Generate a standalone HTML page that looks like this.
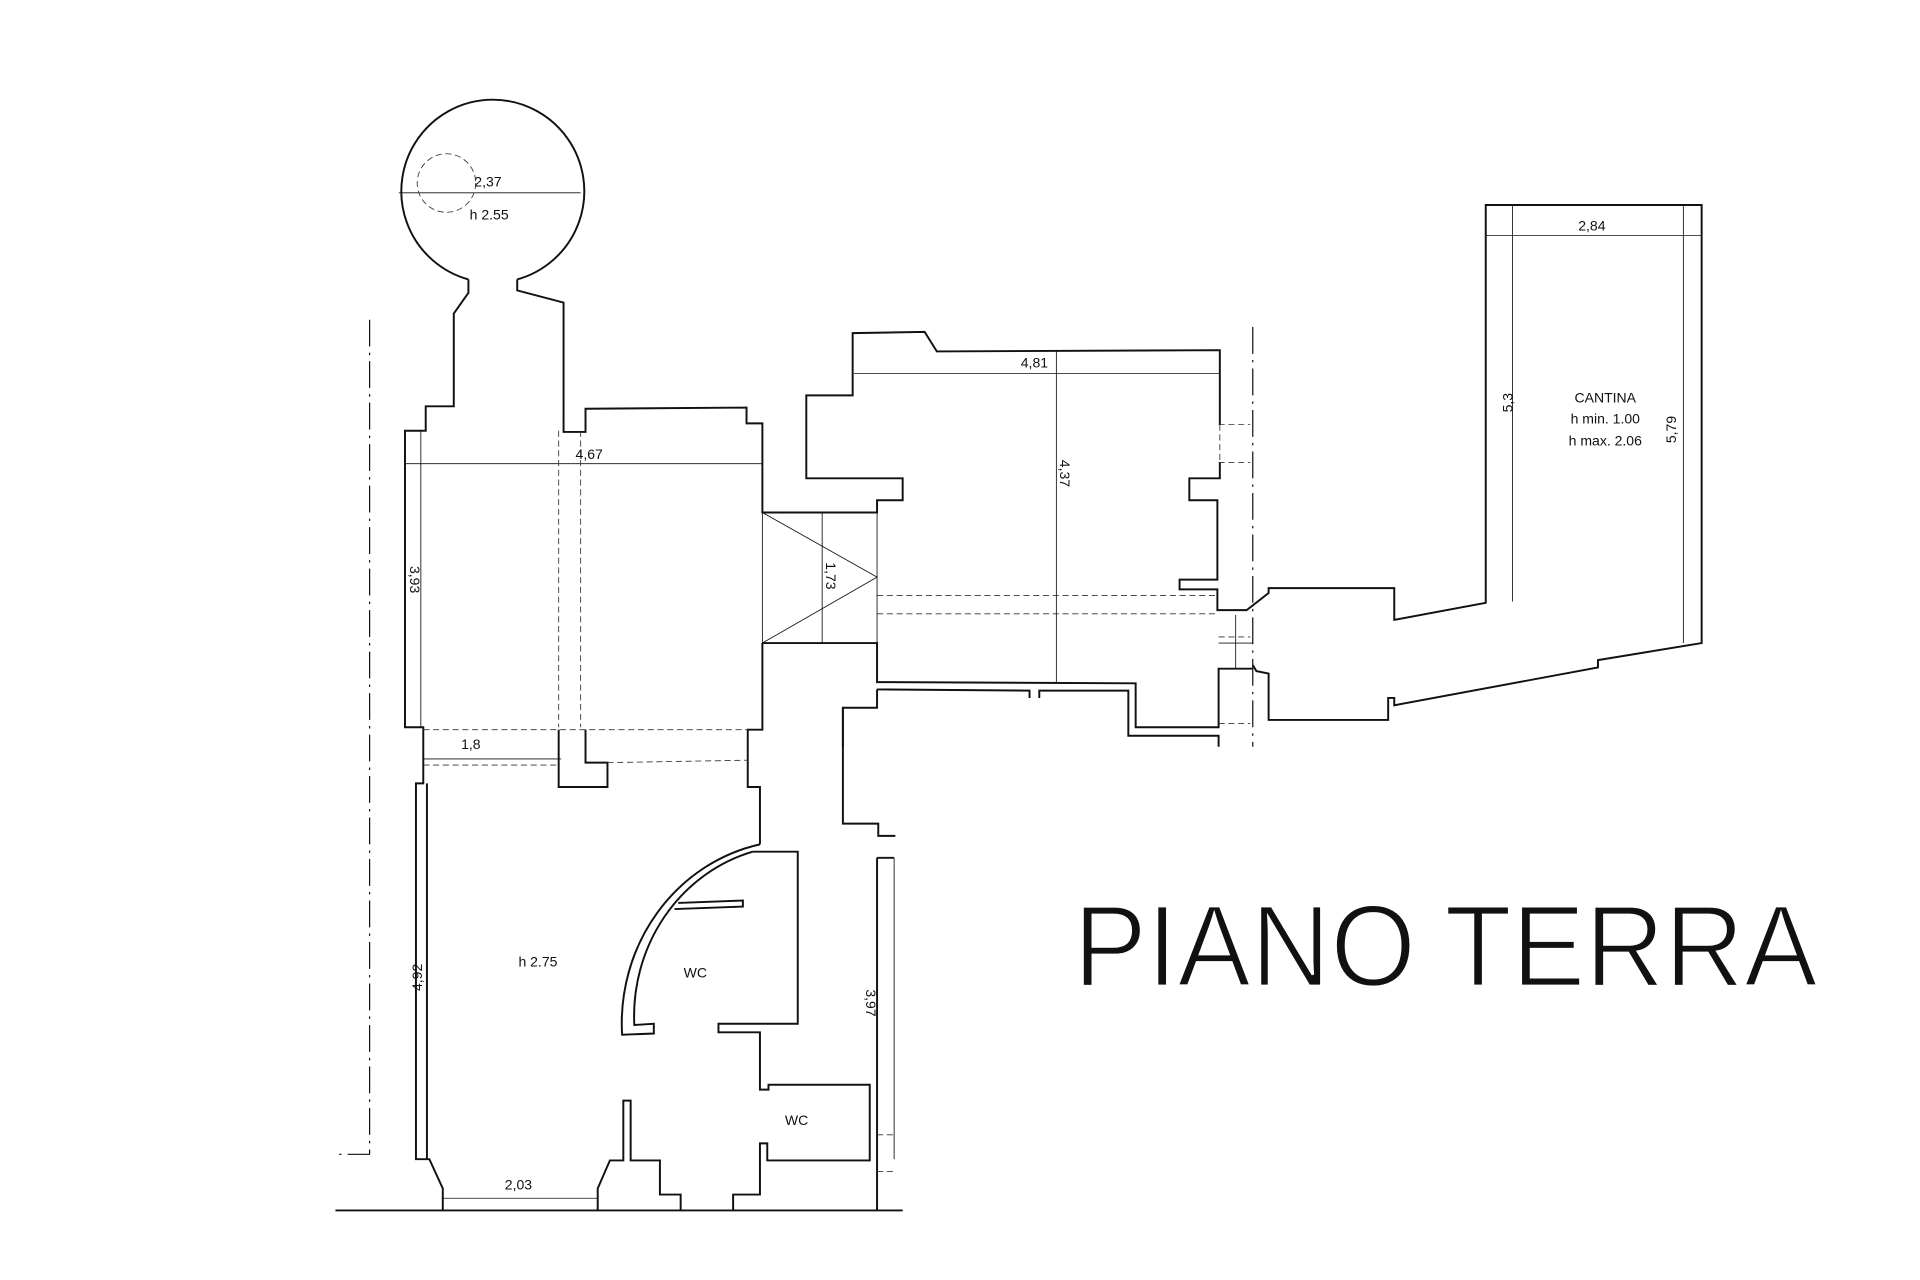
<!DOCTYPE html>
<html><head><meta charset="utf-8"><style>
html,body{margin:0;padding:0;background:#fff;}
svg{display:block;}
text{font-family:"Liberation Sans",sans-serif;fill:#111;}
</style></head><body>
<svg width="1920" height="1280" viewBox="0 0 1574 1049" preserveAspectRatio="none" xmlns="http://www.w3.org/2000/svg">
<rect width="1574" height="1049" fill="#fff"/>
<g fill="none" stroke="#111" stroke-width="1.6" stroke-linejoin="miter">
<path d="M384,229 L384,240 L372,257 L372,333 L349,333 L349,353 L332,353 L332,596 L347,596 L347,642 L341,642 L341,950 L352,950 L363,974 L363,992"/>
<path d="M384,229 A75,75 0 1 1 424,229"/>
<path d="M424,229 L424,238 L462,248 L462,354 L480,354 L480,335 L612,334 L612,347 L625,347 L625,420 L719,420 L719,410 L740,410 L740,392 L661,392 L661,324 L699,324 L699,273 L758,272 L768,288 L1000,287 L1000,348"/>
<path d="M1000,379 L1000,392 L975,392 L975,410 L998,410 L998,475 L967,475 L967,483 L998,483 L998,500 L1022,500 L1040,486 L1040,482 L1143,482 L1143,508 L1218,494 L1218,168 L1395,168 L1395,527 L1310,541 L1310,547 L1143,578 L1143,572 L1138,572 L1138,590 L1040,590 L1040,552 L1030,550 L1027,545"/>
<path d="M625,527 L719,527 L719,559 L931,560 L931,596 L999,596 L999,548 L1027,548"/>
<path d="M719,565 L844,566 L844,572 M852,572 L852,566 L925,566 L925,603 L999,603 L999,612"/>
<path d="M625,527 L625,598 L613,598 L613,645 L623,645 L623,692"/>
<path d="M458,598 L458,645 L498,645 L498,625 L480,625 L480,598"/>
<path d="M691,612 L691,580 L719,580 L719,565"/>
<path d="M691,580 L691,675 L720,675 L720,685 L734,685"/>
<path d="M719,703 L733,703 M719,703 L719,992"/>
<path d="M350,642 L350,950"/>
<path d="M490,992 L490,974 L500,951 L511,951 L511,902 L517,902 L517,951 L541,951 L541,979 L558,979 L558,992"/>
<path d="M601,992 L601,979 L623,979 L623,937 L629,937 L629,951 L713,951 L713,889 L630,889 L630,893 L623,893 L623,846 L589,846 L589,839 L654,839 L654,698 L617,698"/>
<path d="M623,692 A143,150 0 0 0 510,848 L536,847 L536,839 L520,840 A133,140 0 0 1 617,698"/>
<path d="M553,745 L609,743 L609,738 L556,740"/>
<path d="M275,992 L740,992"/>
</g>
<g fill="none" stroke="#111" stroke-width="0.7">
<line x1="327" y1="158" x2="476" y2="158"/>
<line x1="332" y1="380" x2="625" y2="380"/>
<line x1="345" y1="353" x2="345" y2="596"/>
<line x1="347" y1="622" x2="460" y2="622"/>
<line x1="362" y1="982" x2="490" y2="982"/>
<line x1="733" y1="703" x2="733" y2="950"/>
<line x1="625" y1="420" x2="625" y2="527"/>
<line x1="719" y1="420" x2="719" y2="527"/>
<path d="M625,420 L719,473 L625,527"/>
<line x1="674" y1="420" x2="674" y2="527"/>
<line x1="700" y1="306" x2="1000" y2="306"/>
<line x1="866" y1="288" x2="866" y2="560"/>
<line x1="1218" y1="193" x2="1395" y2="193"/>
<line x1="1240" y1="168" x2="1240" y2="493"/>
<line x1="1380" y1="168" x2="1380" y2="527"/>
<line x1="999" y1="527" x2="1027" y2="527"/>
<line x1="1013" y1="504" x2="1013" y2="548"/>
</g>
<g fill="none" stroke="#333" stroke-width="0.7" stroke-dasharray="5,3">
<circle cx="366" cy="150" r="24"/>
<line x1="458" y1="353" x2="458" y2="596"/>
<line x1="476" y1="353" x2="476" y2="596"/>
<line x1="347" y1="598" x2="613" y2="598"/>
<line x1="347" y1="627" x2="458" y2="627"/>
<line x1="498" y1="625" x2="613" y2="623"/>
<line x1="719" y1="488" x2="998" y2="488"/>
<line x1="719" y1="503" x2="998" y2="503"/>
<line x1="999" y1="348" x2="1025" y2="348"/>
<line x1="999" y1="379" x2="1025" y2="379"/>
<line x1="999" y1="522" x2="1025" y2="522"/>
<line x1="999" y1="593" x2="1025" y2="593"/>
<line x1="1000" y1="348" x2="1000" y2="379"/>
<line x1="719" y1="930" x2="733" y2="930"/>
<line x1="719" y1="960" x2="733" y2="960"/>
</g>
<g fill="none" stroke="#111" stroke-width="1" stroke-dasharray="22,5,2,5">
<path d="M303,262 L303,946 L275,946"/>
<line x1="1027" y1="268" x2="1027" y2="612"/>
</g>
<g font-size="11.5" text-anchor="middle">
<text x="400" y="153">2,37</text>
<text x="401" y="180">h 2.55</text>
<text x="483" y="376">4,67</text>
<text x="386" y="614">1,8</text>
<text x="441" y="792">h 2.75</text>
<text x="570" y="801">WC</text>
<text x="653" y="922">WC</text>
<text x="425" y="975">2,03</text>
<text x="848" y="301">4,81</text>
<text x="1305" y="189">2,84</text>
<text x="1316" y="330">CANTINA</text>
<text x="1316" y="347">h min. 1.00</text>
<text x="1316" y="365">h max. 2.06</text>
<text transform="translate(336,475) rotate(90)">3,93</text>
<text transform="translate(677,472) rotate(90)">1,73</text>
<text transform="translate(869,388) rotate(90)">4,37</text>
<text transform="translate(710,822) rotate(90)">3,97</text>
<text transform="translate(346,801) rotate(-90)">4,92</text>
<text transform="translate(1240,330) rotate(-90)">5,3</text>
<text transform="translate(1374,352) rotate(-90)">5,79</text>
</g>
<text x="880" y="808" font-size="95" textLength="610" lengthAdjust="spacingAndGlyphs" fill="#222" stroke="#fff" stroke-width="2.2">PIANO TERRA</text>
</svg>
</body></html>
